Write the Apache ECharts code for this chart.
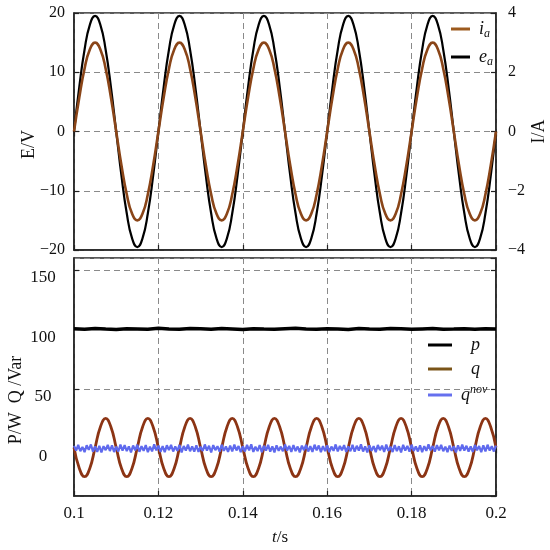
<!DOCTYPE html>
<html><head><meta charset="utf-8">
<script src="https://cdn.jsdelivr.net/npm/echarts@6/dist/echarts.min.js"></script>
<style>html,body{margin:0;padding:0;background:#fff}#c{width:550px;height:550px}</style>
</head><body><div id="c"></div>
<script>
const tStart = 0.1, tEnd = 0.2;
const xTickStep = 0.02;

// e_a (V), sampled every 1.25 ms
const eA = [
  0, 7.5, 13.8, 18.0, 19.5, 18.0, 13.8, 7.5, 0, -7.5, -13.8, -18.0, -19.5, -18.0, -13.8, -7.5,
  0, 7.5, 13.8, 18.0, 19.5, 18.0, 13.8, 7.5, 0, -7.5, -13.8, -18.0, -19.5, -18.0, -13.8, -7.5,
  0, 7.5, 13.8, 18.0, 19.5, 18.0, 13.8, 7.5, 0, -7.5, -13.8, -18.0, -19.5, -18.0, -13.8, -7.5,
  0, 7.5, 13.8, 18.0, 19.5, 18.0, 13.8, 7.5, 0, -7.5, -13.8, -18.0, -19.5, -18.0, -13.8, -7.5,
  0, 7.5, 13.8, 18.0, 19.5, 18.0, 13.8, 7.5, 0, -7.5, -13.8, -18.0, -19.5, -18.0, -13.8, -7.5,
  0
];
// i_a (A), sampled every 1.25 ms
const iA = [
  0, 1.15, 2.12, 2.77, 3.0, 2.77, 2.12, 1.15, 0, -1.15, -2.12, -2.77, -3.0, -2.77, -2.12, -1.15,
  0, 1.15, 2.12, 2.77, 3.0, 2.77, 2.12, 1.15, 0, -1.15, -2.12, -2.77, -3.0, -2.77, -2.12, -1.15,
  0, 1.15, 2.12, 2.77, 3.0, 2.77, 2.12, 1.15, 0, -1.15, -2.12, -2.77, -3.0, -2.77, -2.12, -1.15,
  0, 1.15, 2.12, 2.77, 3.0, 2.77, 2.12, 1.15, 0, -1.15, -2.12, -2.77, -3.0, -2.77, -2.12, -1.15,
  0, 1.15, 2.12, 2.77, 3.0, 2.77, 2.12, 1.15, 0, -1.15, -2.12, -2.77, -3.0, -2.77, -2.12, -1.15,
  0
];
// p (W), sampled every 2.5 ms
const pVals = [
  100.5, 100.1, 100.8, 100.3, 100.0, 100.6, 100.4, 100.2, 100.9, 100.3,
  100.1, 100.7, 100.5, 100.2, 100.8, 100.4, 100.0, 100.6, 100.3, 100.1,
  100.5, 100.9, 100.3, 100.2, 100.6, 100.4, 100.0, 100.7, 100.3, 100.2,
  100.8, 100.5, 100.1, 100.4, 100.7, 100.2, 100.3, 100.6, 100.1, 100.5,
  100.3
];
// q (Var), sampled every 1.25 ms
const qVals = [
  0.7, -16.6, -23.8, -16.6, 0.7, 18.0, 25.2, 18.0,
  0.7, -16.6, -23.8, -16.6, 0.7, 18.0, 25.2, 18.0,
  0.7, -16.6, -23.8, -16.6, 0.7, 18.0, 25.2, 18.0,
  0.7, -16.6, -23.8, -16.6, 0.7, 18.0, 25.2, 18.0,
  0.7, -16.6, -23.8, -16.6, 0.7, 18.0, 25.2, 18.0,
  0.7, -16.6, -23.8, -16.6, 0.7, 18.0, 25.2, 18.0,
  0.7, -16.6, -23.8, -16.6, 0.7, 18.0, 25.2, 18.0,
  0.7, -16.6, -23.8, -16.6, 0.7, 18.0, 25.2, 18.0,
  0.7, -16.6, -23.8, -16.6, 0.7, 18.0, 25.2, 18.0,
  0.7, -16.6, -23.8, -16.6, 0.7, 18.0, 25.2, 18.0,
  0.7
];
// q^nov (Var), sampled every 0.5 ms
const qNovVals = [
  2.1, -1.8, 2.9, -2.4, 1.3, -3.1, 2.6, -1.2, 3.3, -2.7,
  1.6, -2.9, 2.2, -3.4, 1.9, -1.5, 3.0, -2.2, 2.5, -3.0,
  1.4, -2.6, 3.2, -1.9, 2.8, -2.3, 1.7, -3.3, 2.4, -1.6,
  3.1, -2.8, 1.8, -2.0, 2.7, -3.2, 1.5, -2.5, 3.4, -1.7,
  2.3, -2.9, 1.9, -3.1, 2.6, -1.4, 3.0, -2.6, 1.6, -2.1,
  2.9, -3.3, 2.0, -1.8, 3.2, -2.4, 1.7, -2.7, 2.5, -3.0,
  1.5, -2.2, 3.3, -1.9, 2.2, -3.4, 2.8, -1.5, 1.9, -2.8,
  3.1, -2.1, 1.6, -3.0, 2.4, -2.5, 3.2, -1.7, 2.0, -3.2,
  1.8, -2.6, 2.9, -1.6, 3.4, -2.9, 1.4, -2.3, 2.7, -3.1,
  2.2, -1.9, 3.0, -2.7, 1.7, -3.3, 2.6, -2.0, 1.5, -2.4,
  3.3, -1.8, 2.1, -3.0, 2.8, -2.2, 1.6, -3.4, 2.3, -1.5,
  2.9, -2.6, 1.8, -2.9, 3.1, -1.7, 2.4, -3.1, 1.9, -2.3,
  2.6, -3.2, 1.5, -2.0, 3.3, -2.5, 2.0, -1.6, 2.8, -3.0,
  1.7, -2.4, 3.0, -2.8, 2.2, -1.9, 3.4, -2.6, 1.6, -3.3,
  2.5, -2.1, 1.9, -3.1, 2.9, -1.5, 2.3, -2.9, 3.2, -2.0,
  1.4, -3.0, 2.7, -2.3, 1.8, -3.4, 3.0, -1.8, 2.1, -2.7,
  3.1, -2.2, 1.6, -2.6, 2.6, -3.1, 1.9, -2.0, 3.3, -1.6,
  2.0, -2.8, 2.8, -1.7, 3.0, -2.4, 1.5, -3.2, 2.4, -2.1,
  1.8, -3.3, 2.5, -2.0, 3.2, -1.9, 2.2, -2.7, 1.7, -3.0,
  2.9, -1.6, 2.0, -3.1, 2.6, -2.5, 3.1, -1.8, 1.9, -2.6,
  2.3
];

function toPairs(vals) {
  const n = vals.length;
  return vals.map((v, i) => [tStart + i * (tEnd - tStart) / (n - 1), v]);
}

const FONT = 'Liberation Serif';
const GRID_COLOR = '#8a8a8a';
const AX = '#222';
const minus = v => String(v).replace('-', '\u2212');

const splitDash = { show: true, lineStyle: { color: GRID_COLOR, type: [6, 4], width: 1 } };
const axisLineStyle = { show: true, onZero: false, lineStyle: { color: AX, width: 1.5 } };
const tickIn = { show: true, inside: true, length: 5, lineStyle: { color: AX, width: 1.2 } };

const legendRich = {
  it: { fontFamily: FONT, fontStyle: 'italic', fontSize: 18, color: '#111', lineHeight: 22, padding: [0, 0, 0, 4] },
  itp: { fontFamily: FONT, fontStyle: 'italic', fontSize: 18, color: '#111', lineHeight: 22, padding: [0, 0, 0, 14] },
  itq: { fontFamily: FONT, fontStyle: 'italic', fontSize: 18, color: '#111', lineHeight: 22, padding: [0, 0, 0, 4] },
  sub: { fontFamily: FONT, fontStyle: 'italic', fontSize: 12, color: '#111', lineHeight: 12, verticalAlign: 'bottom' },
  sup: { fontFamily: FONT, fontStyle: 'italic', fontSize: 12, color: '#111', lineHeight: 12, verticalAlign: 'top' }
};
const legendLabels = {
  ia: '{it|i}{sub|a}',
  ea: '{it|e}{sub|a}',
  p: '{itp|p}',
  q: '{itp|q}',
  qnov: '{itq|q}{sup|nov}'
};

const chart = echarts.init(document.getElementById('c'), null, { renderer: 'canvas' });
chart.setOption({
  animation: false,
  backgroundColor: '#fff',
  grid: [
    { left: 74, right: 54, top: 13, height: 237, show: true, borderColor: AX, borderWidth: 1.5,
      backgroundColor: 'transparent', outerBoundsMode: 'none', containLabel: false },
    { left: 74, right: 54, top: 258, height: 238, show: true, borderColor: AX, borderWidth: 1.5,
      backgroundColor: 'transparent', outerBoundsMode: 'none', containLabel: false }
  ],
  legend: [
    {
      data: ['ia', 'ea'], orient: 'vertical', left: 451, top: 20, icon: 'rect', padding: 0,
      itemWidth: 19, itemHeight: 3, itemGap: 8,
      formatter: n => legendLabels[n],
      textStyle: { rich: legendRich }
    },
    {
      data: ['p', 'q', 'qnov'], orient: 'vertical', left: 428, top: 336, icon: 'rect', padding: 0,
      itemWidth: 24, itemHeight: 3, itemGap: 6,
      formatter: n => legendLabels[n],
      textStyle: { rich: legendRich }
    }
  ],
  xAxis: [
    {
      type: 'value', gridIndex: 0, min: tStart, max: tEnd, interval: xTickStep,
      axisLine: axisLineStyle, axisTick: tickIn, axisLabel: { show: false }, splitLine: splitDash
    },
    {
      type: 'value', gridIndex: 1, min: tStart, max: tEnd, interval: xTickStep,
      axisLine: axisLineStyle, axisTick: tickIn, splitLine: splitDash,
      axisLabel: { fontFamily: FONT, fontSize: 17, color: '#111', margin: 9, formatter: v => String(+v.toFixed(2)) },
      name: '{i|t}{n|/s}', nameLocation: 'middle', nameGap: 33, nameMoveOverlap: false,
      nameTextStyle: { padding: [0, 10, 0, 0], rich: { i: { fontFamily: FONT, fontStyle: 'italic', fontSize: 17, color: '#111' }, n: { fontFamily: FONT, fontSize: 17, color: '#111' } } }
    },
    {
      type: 'value', gridIndex: 0, position: 'top', min: tStart, max: tEnd, interval: xTickStep,
      axisLine: { show: false }, axisTick: tickIn, axisLabel: { show: false }, splitLine: { show: false }
    },
    {
      type: 'value', gridIndex: 1, position: 'top', min: tStart, max: tEnd, interval: xTickStep,
      axisLine: { show: false }, axisTick: tickIn, axisLabel: { show: false }, splitLine: { show: false }
    }
  ],
  yAxis: [
    {
      type: 'value', gridIndex: 0, position: 'left', min: -20, max: 20, interval: 10,
      axisLine: axisLineStyle, axisTick: tickIn, splitLine: splitDash,
      axisLabel: { fontFamily: FONT, fontSize: 16, color: '#111', margin: 9, formatter: minus },
      name: 'E/V', nameLocation: 'middle', nameGap: 36, nameMoveOverlap: false,
      nameTextStyle: { fontFamily: FONT, fontSize: 18, color: '#111', padding: [0, 26, 0, 0] }
    },
    {
      type: 'value', gridIndex: 0, position: 'right', min: -4, max: 4, interval: 2,
      axisLine: axisLineStyle, axisTick: tickIn, splitLine: { show: false },
      axisLabel: { fontFamily: FONT, fontSize: 16, color: '#111', margin: 12, formatter: minus },
      name: 'I/A', nameLocation: 'middle', nameGap: 34, nameMoveOverlap: false,
      nameTextStyle: { fontFamily: FONT, fontSize: 18, color: '#111' }
    },
    {
      type: 'value', gridIndex: 1, position: 'left', min: -40, max: 160, splitNumber: 4,
      axisLine: axisLineStyle, axisTick: tickIn, splitLine: splitDash,
      axisLabel: { fontFamily: FONT, fontSize: 17, color: '#111', margin: 31, align: 'center',
        verticalAlign: 'top', lineHeight: 16, showMinLabel: false, showMaxLabel: false, formatter: minus },
      name: 'P/W  Q /Var', nameLocation: 'middle', nameGap: 49, nameMoveOverlap: false,
      nameTextStyle: { fontFamily: FONT, fontSize: 18, color: '#111', padding: [0, 46, 0, 0] }
    },
    {
      type: 'value', gridIndex: 1, position: 'right', min: -40, max: 160, splitNumber: 4,
      axisLine: axisLineStyle, axisTick: tickIn, splitLine: { show: false }, axisLabel: { show: false }
    }
  ],
  series: [
    { name: 'ea', type: 'line', xAxisIndex: 0, yAxisIndex: 0, data: toPairs(eA), smooth: 0.5, symbol: 'none',
      lineStyle: { color: '#000', width: 2.2 }, itemStyle: { color: '#000' } },
    { name: 'ia', type: 'line', xAxisIndex: 0, yAxisIndex: 1, data: toPairs(iA), smooth: 0.5, symbol: 'none',
      lineStyle: { color: '#8a4518', width: 2.6 }, itemStyle: { color: '#9c5a1e' } },
    { name: 'p', type: 'line', xAxisIndex: 1, yAxisIndex: 2, data: toPairs(pVals), symbol: 'none',
      lineStyle: { color: '#000', width: 3.5 }, itemStyle: { color: '#000' } },
    { name: 'q', type: 'line', xAxisIndex: 1, yAxisIndex: 2, data: toPairs(qVals), smooth: 0.5, symbol: 'none',
      lineStyle: { color: '#8c3414', width: 2.8 }, itemStyle: { color: '#7a5418' } },
    { name: 'qnov', type: 'line', xAxisIndex: 1, yAxisIndex: 2, data: toPairs(qNovVals), symbol: 'none',
      lineStyle: { color: '#5f6aee', width: 2.2 }, itemStyle: { color: '#6670ee' } }
  ]
});
</script>
</body></html>
